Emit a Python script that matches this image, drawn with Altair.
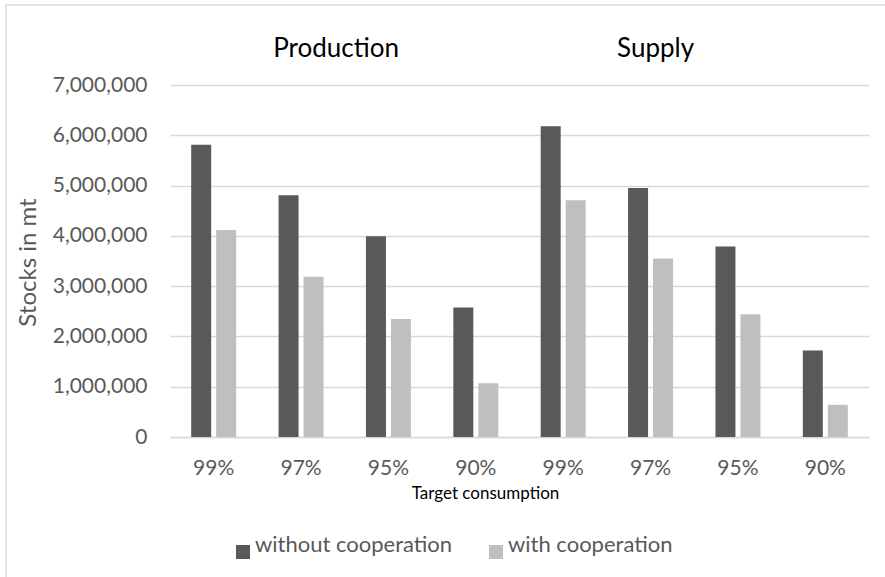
import altair as alt
import pandas as pd

# Categories
groups = ["Production", "Supply"]
targets = ["99%", "97%", "95%", "90%"]
series = ["without cooperation", "with cooperation"]

# Stocks (mt) for each target consumption level
production_without = [5810000, 4810000, 3990000, 2575000]
production_with = [4115000, 3185000, 2345000, 1070000]
supply_without = [6180000, 4950000, 3790000, 1720000]
supply_with = [4710000, 3550000, 2440000, 640000]

y_ticks = [0, 1000000, 2000000, 3000000, 4000000, 5000000, 6000000, 7000000]

DARK = "#595959"
LIGHT = "#bfbfbf"
GRID = "#d9d9d9"
FONT = "Lato"

rows = []
for g, w_vals, c_vals in [("Production", production_without, production_with),
                          ("Supply", supply_without, supply_with)]:
    for t, a, b in zip(targets, w_vals, c_vals):
        rows.append({"group": g, "target": t, "key": f"{g} {t}", "series": series[0], "stocks": a})
        rows.append({"group": g, "target": t, "key": f"{g} {t}", "series": series[1], "stocks": b})
df = pd.DataFrame(rows)
key_order = [f"{g} {t}" for g in groups for t in targets]

x_enc = alt.X(
    "key:N",
    sort=key_order,
    scale=alt.Scale(paddingInner=0.485, paddingOuter=0.2425),
    axis=alt.Axis(
        title="Target consumption",
        labelExpr="split(datum.value, ' ')[1]",
        labelAngle=0,
        labelFont=FONT,
        labelFontSize=21,
        labelColor=DARK,
        labelBaseline="middle",
        labelPadding=31,
        ticks=False,
        domainColor=GRID,
        domainWidth=1.3,
        titleFont=FONT,
        titleFontSize=17,
        titleFontWeight="normal",
        titleColor="#000000",
        titleX=315,
        titleY=56,
        titleBaseline="middle",
        titleAlign="center",
    ),
)

bars = alt.Chart(df).mark_bar().encode(
    x=x_enc,
    xOffset=alt.XOffset("series:N", sort=series,
                        scale=alt.Scale(paddingInner=0.2, paddingOuter=0)),
    y=alt.Y(
        "stocks:Q",
        scale=alt.Scale(domain=[0, 7000000], nice=False),
        axis=alt.Axis(
            values=y_ticks,
            format=",d",
            title="Stocks in mt",
            labelFont=FONT,
            labelFontSize=21,
            labelColor=DARK,
            labelPadding=23,
            ticks=False,
            domain=False,
            gridColor=GRID,
            gridWidth=1.3,
            titleFont=FONT,
            titleFontSize=24,
            titleFontWeight="normal",
            titleColor=DARK,
            titleX=-142,
            titleY=177,
            titleAngle=-90,
            titleAlign="center",
            titleBaseline="middle",
        ),
    ),
    color=alt.Color(
        "series:N",
        sort=series,
        scale=alt.Scale(domain=series, range=[DARK, LIGHT]),
        legend=alt.Legend(
            title=None,
            orient="none",
            legendX=62,
            legendY=456,
            direction="horizontal",
            symbolType="square",
            symbolSize=196,
            symbolStrokeWidth=0,
            labelFont=FONT,
            labelFontSize=22,
            labelColor=DARK,
            labelOffset=1,
            labelLimit=0,
            labelBaseline="alphabetic",
            columnPadding=32,
            padding=0,
        ),
    ),
)

titles_df = pd.DataFrame({"group": groups, "key": [f"{g} 97%" for g in groups]})

def group_title(name, shift):
    return alt.Chart(titles_df).transform_filter(
        alt.datum.group == name
    ).mark_text(
        font=FONT, fontSize=26, color="#000000", baseline="alphabetic", dx=shift
    ).encode(
        x=alt.X("key:N", sort=key_order),
        y=alt.value(-28),
        text="group:N",
    )

frame = alt.Chart(pd.DataFrame({"f": [0]})).mark_rect(
    fill=None, stroke=GRID, strokeWidth=1.3
).encode(
    x=alt.value(-164), y=alt.value(-80), x2=alt.value(760), y2=alt.value(520)
)

chart = alt.layer(frame, bars, group_title("Production", 35), group_title("Supply", 5)).properties(
    width=699,
    height=352,
    autosize=alt.AutoSizeParams(type="none"),
    padding={"left": 170, "top": 85, "right": 16, "bottom": 140},
    background="white",
).configure_view(stroke=None)

chart.save("out.html", embed_options={"renderer": "svg", "actions": False})
